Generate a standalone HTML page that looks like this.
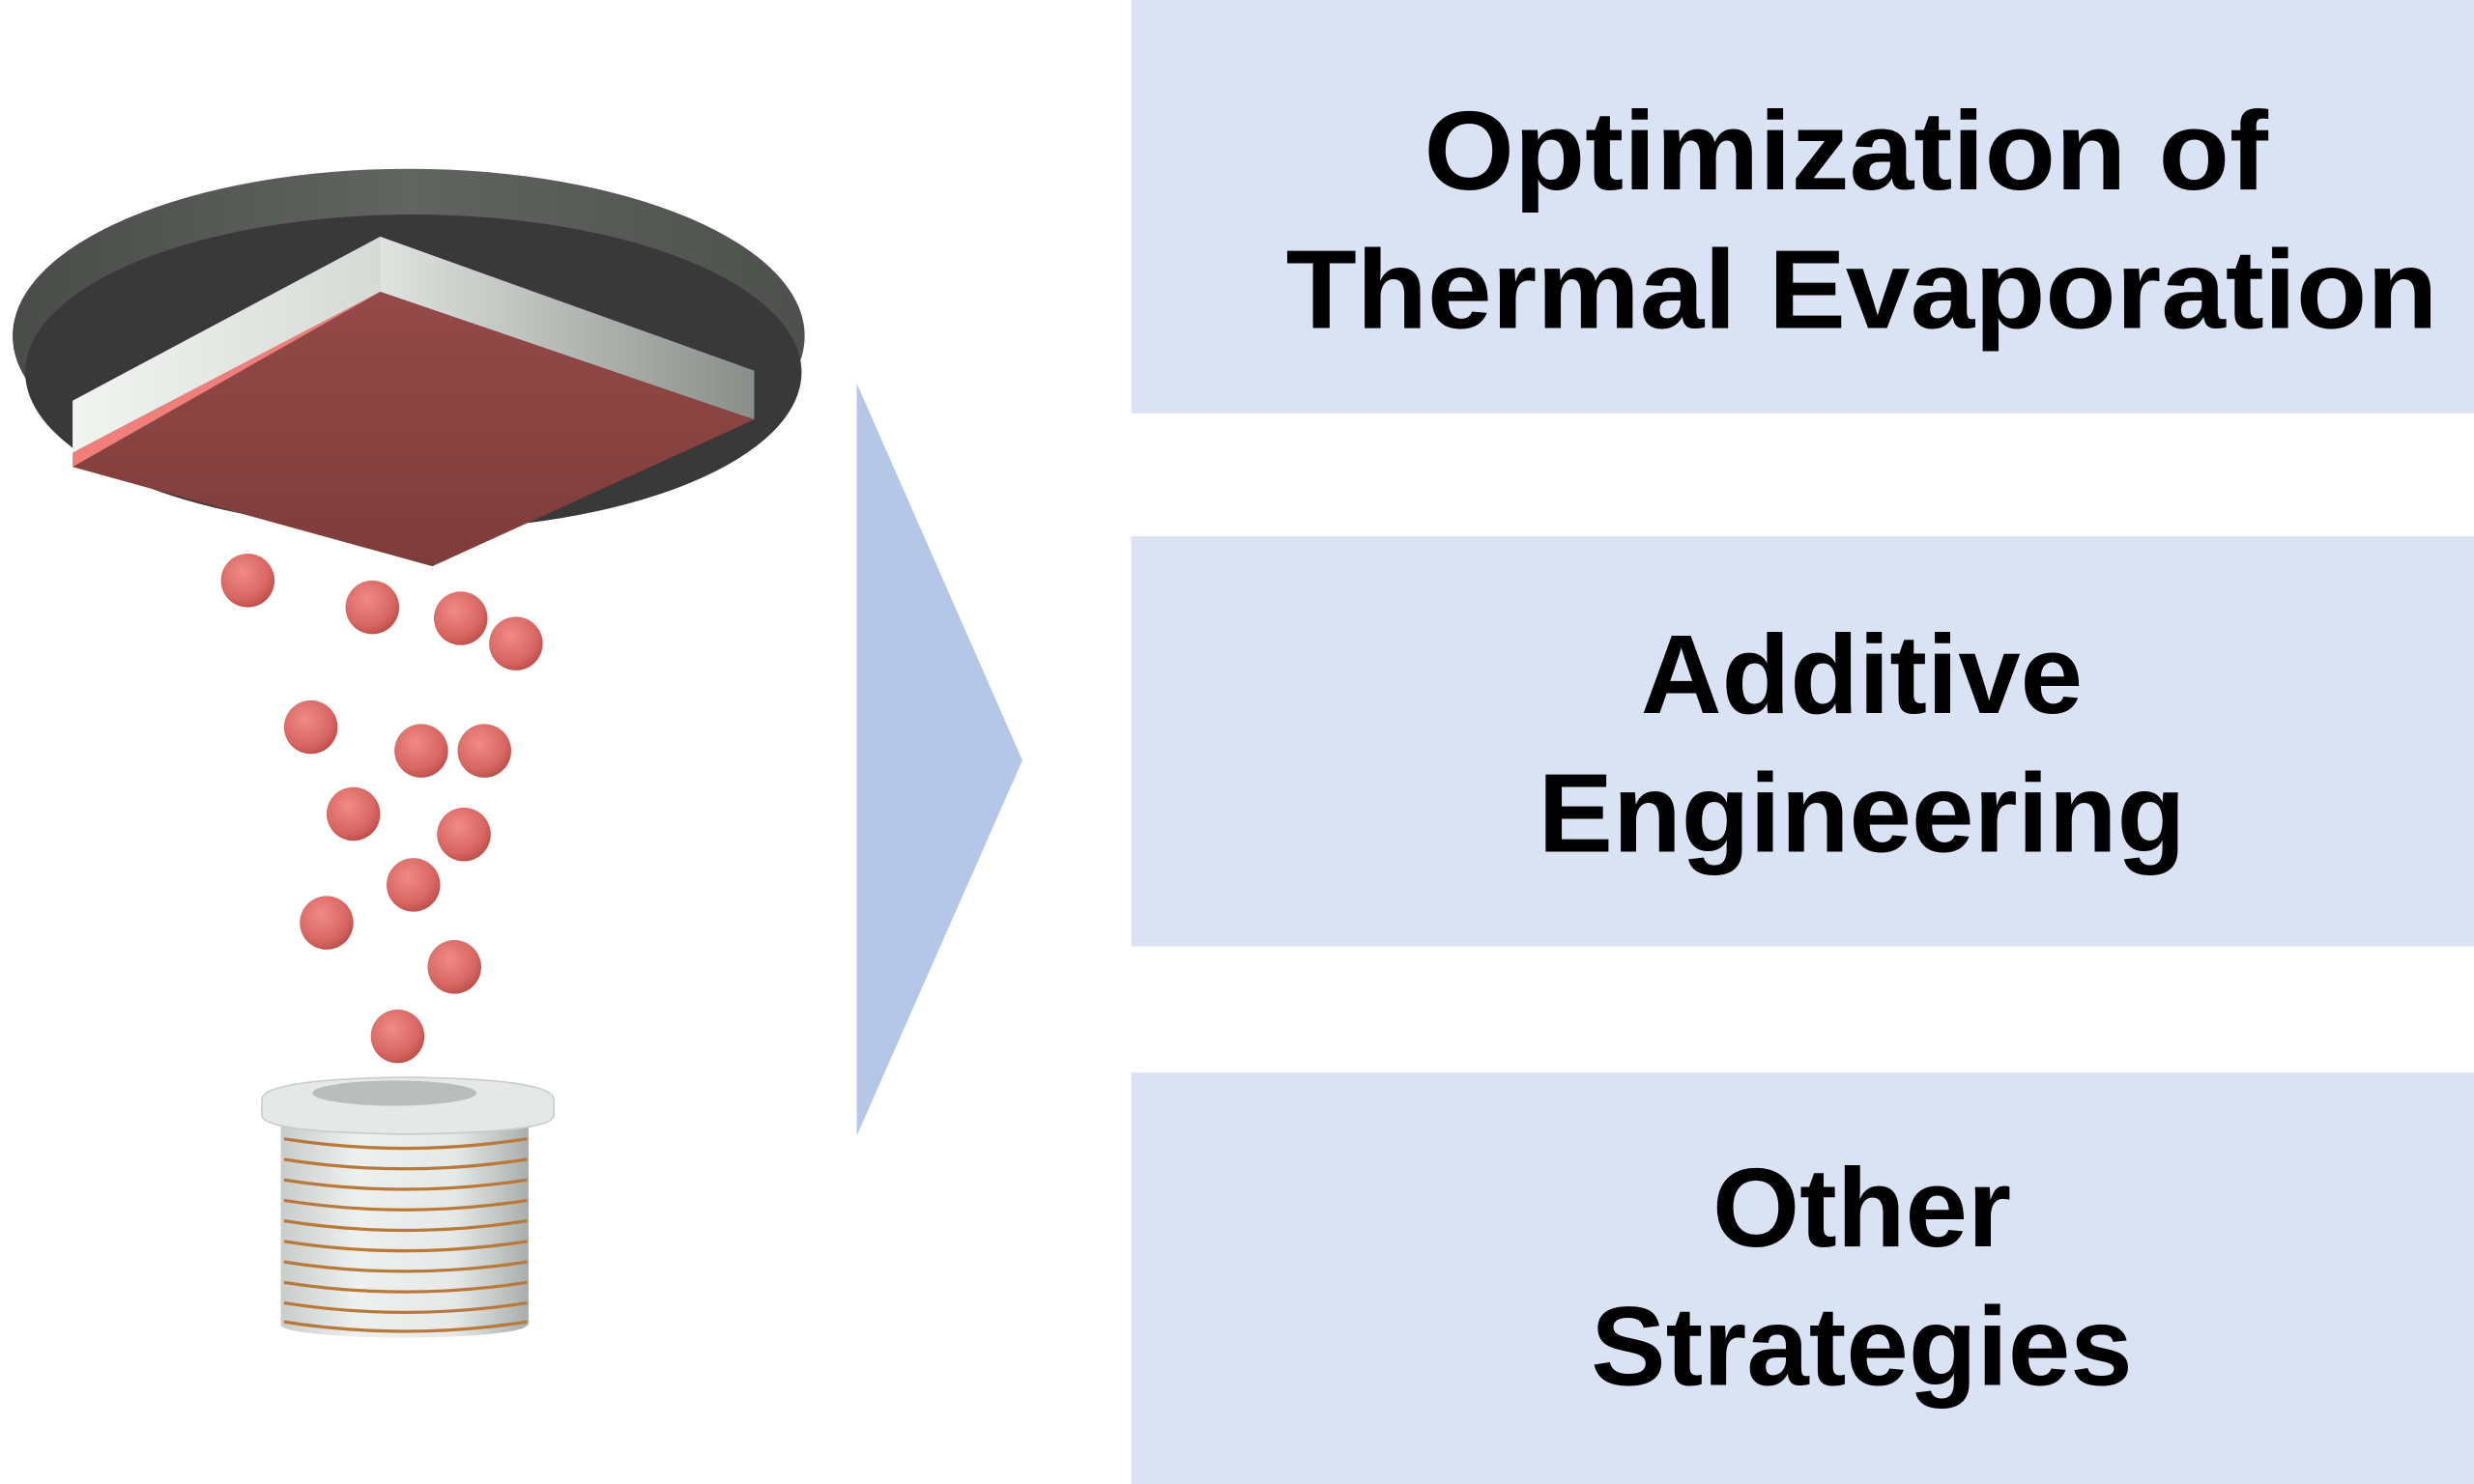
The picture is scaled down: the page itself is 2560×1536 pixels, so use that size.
<!DOCTYPE html>
<html><head><meta charset="utf-8"><style>
html,body{margin:0;padding:0;background:#fff;}
svg{display:block;}
</style></head><body>
<svg width="2560" height="1536" viewBox="0 0 1568 940.8" preserveAspectRatio="none" xmlns="http://www.w3.org/2000/svg">
<defs>
<linearGradient id="rim" x1="0" x2="1"><stop offset="0" stop-color="#4a4c4a"/><stop offset="0.5" stop-color="#626462"/><stop offset="1" stop-color="#4e504e"/></linearGradient>
<linearGradient id="wl" x1="0" x2="1"><stop offset="0" stop-color="#f2f4f2"/><stop offset="1" stop-color="#d6dad6"/></linearGradient>
<linearGradient id="wr" x1="0" x2="1"><stop offset="0" stop-color="#e0e3e0"/><stop offset="1" stop-color="#8a8e8a"/></linearGradient>
<linearGradient id="red" x1="0" y1="0" x2="0" y2="1"><stop offset="0" stop-color="#944a48"/><stop offset="1" stop-color="#7e3c3a"/></linearGradient>
<radialGradient id="ball" cx="0.4" cy="0.35" r="0.7"><stop offset="0" stop-color="#f08a86"/><stop offset="0.7" stop-color="#d86662"/><stop offset="1" stop-color="#b84c48"/></radialGradient>
<linearGradient id="cyl" x1="0" x2="1"><stop offset="0" stop-color="#c8cccb"/><stop offset="0.3" stop-color="#eef0ef"/><stop offset="0.7" stop-color="#e6e9e8"/><stop offset="1" stop-color="#a9aeac"/></linearGradient>
</defs>
<!-- boxes -->
<rect x="717" y="0" width="851" height="262" fill="#dae3f3"/>
<rect x="717" y="340" width="851" height="260" fill="#dae3f3"/>
<rect x="717" y="680" width="851" height="261" fill="#dae3f3"/>
<!-- arrow -->
<polygon points="543,243 648,482 543,720" fill="#b4c7e7"/>
<!-- text -->
<g font-family="'Liberation Sans', Arial, sans-serif" font-weight="bold" font-size="71" fill="#000" text-anchor="middle">
<text x="1170" y="120" textLength="535" lengthAdjust="spacingAndGlyphs">Optimization of</text>
<text x="1180" y="208" textLength="730" lengthAdjust="spacingAndGlyphs">Thermal Evaporation</text>
<text x="1180" y="452">Additive</text>
<text x="1180" y="540">Engineering</text>
<text x="1180" y="790">Other</text>
<text x="1180" y="878">Strategies</text>
</g>
<!-- disc -->
<ellipse cx="259" cy="213" rx="251" ry="106" fill="url(#rim)"/>
<ellipse cx="262" cy="236" rx="246" ry="100" fill="#383938"/>
<!-- square slab -->
<polygon points="46,254 241,150 241,185 46,287" fill="url(#wl)"/>
<polygon points="241,150 478,235 478,266 241,185" fill="url(#wr)"/>
<polygon points="46,287 241,185 241,192 46,296" fill="#f07e7a"/>
<polygon points="46,296 241,185 478,266 274,359" fill="url(#red)"/>
<!-- balls -->
<g fill="url(#ball)">
<circle cx="157" cy="368" r="17"/><circle cx="236" cy="385" r="17"/><circle cx="292" cy="392" r="17"/><circle cx="327" cy="408" r="17"/>
<circle cx="197" cy="461" r="17"/><circle cx="267" cy="476" r="17"/><circle cx="307" cy="476" r="17"/><circle cx="224" cy="516" r="17"/>
<circle cx="294" cy="529" r="17"/><circle cx="262" cy="561" r="17"/><circle cx="207" cy="585" r="17"/><circle cx="288" cy="613" r="17"/>
<circle cx="252" cy="657" r="17"/>
</g>
<!-- crucible -->
<rect x="178" y="705" width="157" height="135" fill="url(#cyl)"/>
<ellipse cx="256" cy="840" rx="78" ry="8" fill="url(#cyl)"/>
<g fill="none" stroke="#b87a3a" stroke-width="2">
<path d="M180,722 Q256,734 334,722"/><path d="M180,735 Q256,747 334,735"/><path d="M180,748 Q256,760 334,748"/>
<path d="M180,761 Q256,773 334,761"/><path d="M180,774 Q256,786 334,774"/><path d="M180,787 Q256,799 334,787"/>
<path d="M180,800 Q256,812 334,800"/><path d="M180,813 Q256,825 334,813"/><path d="M180,826 Q256,838 334,826"/>
<path d="M180,838 Q256,850 334,838"/>
</g>
<path d="M166,697 Q166,684 258,683 Q351,684 351,697 L351,707 Q351,718 258,719 Q166,718 166,707 Z" fill="#e4e8e6" stroke="#c8ccca" stroke-width="1"/>
<ellipse cx="250" cy="693" rx="52" ry="8" fill="#b9bebc"/>
</svg>
</body></html>
